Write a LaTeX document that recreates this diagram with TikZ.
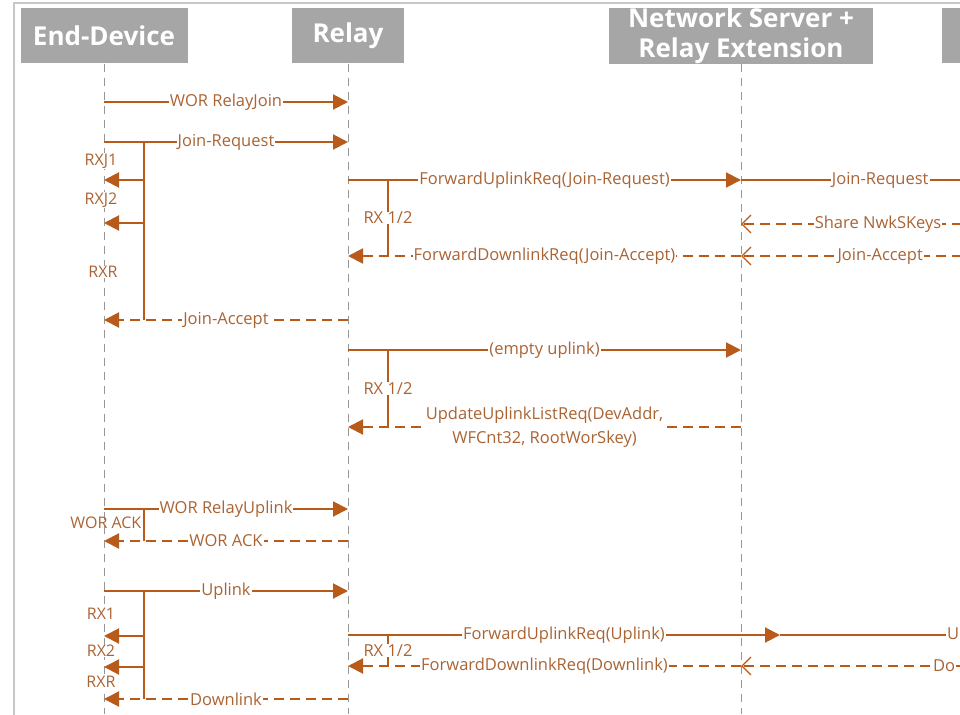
\documentclass[tikz,border=0pt]{standalone}
\usepackage{fontspec}
\setmainfont{Open Sans}
\usetikzlibrary{arrows.meta}

\definecolor{msgline}{RGB}{184,90,26}
\definecolor{msgtext}{RGB}{170,100,52}
\definecolor{hdrgrey}{RGB}{166,166,166}
\definecolor{lifegrey}{RGB}{150,150,150}
\definecolor{framegrey}{RGB}{200,200,200}

\begin{document}
\begin{tikzpicture}[x=1pt,y=-1pt,
  hdr/.style={fill=hdrgrey,text=white,font=\fontsize{26}{30}\selectfont\bfseries,minimum height=55pt,inner sep=0pt},
  life/.style={draw=lifegrey,line width=1pt,dash pattern=on 8pt off 6pt},
  msg/.style={draw=msgline,line width=2pt},
  rsp/.style={msg,dash pattern=on 10pt off 6pt},
  lbl/.style={fill=white,text=msgtext,font=\fontsize{16.5}{19}\selectfont,inner xsep=1pt,inner ysep=0.5pt},
  rxlbl/.style={fill=white,text=msgtext,font=\fontsize{16}{19}\selectfont,inner sep=0.5pt},
  filledhead/.style={-{Triangle[length=15pt,width=15pt]}},
  openhead/.style={-{Straight Barb[length=9pt,width=18pt,line width=1.3pt]}}]
\useasboundingbox (0,0) rectangle (960,714);
\clip (0,0) rectangle (960,714);

% frame of the screenshot
\draw[framegrey,line width=1.2pt] (14,730) -- (14,3) -- (990,3);

% participants
\node[hdr,minimum width=167pt] (ed) at (104,36) {End-Device};
\node[hdr,minimum width=112pt] (rl) at (348,36) {Relay};
\node[hdr,minimum width=264pt,align=center] (ns) at (741,36) {Network Server +\\Relay Extension};
\node[hdr,minimum width=60pt] (js) at (972,36) {};

\coordinate (ed-end) at (104,714);
\coordinate (rl-end) at (348,714);
\coordinate (ns-end) at (741,714);
\draw[life] (ed) -- (ed-end);
\draw[life] (rl) -- (rl-end);
\draw[life] (ns) -- (ns-end);

% message rows
\foreach \n/\y in {wrj/102,jrq/142,rxj1/180,rxj2/223,jac/320,fur/180,shk/224,fdr/256,
  eup/350,uul/427,wru/509,wak/541,upl/591,rx1/636,rx2/667,dnl/699,fuu/635,fdd/666}{
  \coordinate (ed-\n) at (104,\y);
  \coordinate (br-\n) at (144,\y);
  \coordinate (rl-\n) at (348,\y);
  \coordinate (bx-\n) at (388,\y);
  \coordinate (ns-\n) at (741,\y);
  \coordinate (rt-\n) at (962,\y);
}

% join
\draw[msg,filledhead] (ed-wrj) -- node[lbl] (t-wrj) {WOR RelayJoin} (rl-wrj);
\draw[msg,filledhead] (ed-jrq) -- node[lbl] (t-jrq) {Join-Request} (rl-jrq);
\draw[msg] (br-jrq) -- (br-jac);
\draw[msg,filledhead] (br-rxj1) -- (ed-rxj1);
\draw[msg,filledhead] (br-rxj2) -- (ed-rxj2);
\draw[rsp,filledhead] (rl-jac) -- node[lbl] (t-jac) {Join-Accept} (ed-jac);
\node[rxlbl] (l-rxj1) at (101,161) {RXJ1};
\node[rxlbl] (l-rxj2) at (101,200) {RXJ2};
\node[rxlbl] (l-rxr1) at (103,272) {RXR};

\draw[msg,filledhead] (rl-fur) -- node[lbl] (t-fur) {ForwardUplinkReq(Join-Request)} (ns-fur);
\draw[msg] (ns-fur) -- node[lbl,pos=0.63] (t-jrq2) {Join-Request} (rt-fur);
\draw[msg] (bx-fur) -- node[lbl] (t-rx1) {RX 1/2} (bx-fdr);
\draw[rsp,openhead] (rt-shk) -- node[lbl,pos=0.38] (t-shk) {Share NwkSKeys} (ns-shk);
\draw[rsp,openhead] (rt-fdr) -- node[lbl,pos=0.37] (t-jac2) {Join-Accept} (ns-fdr);
\draw[rsp,filledhead] (ns-fdr) -- node[lbl] (t-fdr) {ForwardDownlinkReq(Join-Accept)} (rl-fdr);

% uplink list
\draw[msg,filledhead] (rl-eup) -- node[lbl] (t-eup) {(empty uplink)} (ns-eup);
\draw[msg] (bx-eup) -- node[lbl] (t-rx2) {RX 1/2} (bx-uul);
\draw[rsp,filledhead] (ns-uul) -- node[lbl,align=center] (t-uul)
  {UpdateUplinkListReq(DevAddr,\\[5pt]WFCnt32, RootWorSkey)} (rl-uul);

% wake on radio
\draw[msg,filledhead] (ed-wru) -- node[lbl] (t-wru) {WOR RelayUplink} (rl-wru);
\draw[msg] (br-wru) -- (br-wak);
\node[rxlbl,anchor=east,fill=none] (l-wak) at (142,523) {WOR ACK};
\draw[rsp,filledhead] (rl-wak) -- node[lbl] (t-wak) {WOR ACK} (ed-wak);

% uplink
\draw[msg,filledhead] (ed-upl) -- node[lbl] (t-upl) {Uplink} (rl-upl);
\draw[msg] (br-upl) -- (br-dnl);
\draw[msg,filledhead] (br-rx1) -- (ed-rx1);
\draw[msg,filledhead] (br-rx2) -- (ed-rx2);
\draw[rsp,filledhead] (rl-dnl) -- node[lbl] (t-dnl) {Downlink} (ed-dnl);
\node[rxlbl] (l-rx1) at (101,614) {RX1};
\node[rxlbl] (l-rx2) at (101,651) {RX2};
\node[rxlbl] (l-rxr2) at (101,682) {RXR};

\coordinate (fuu-tip) at (780,635);
\draw[msg,filledhead] (rl-fuu) -- node[lbl] (t-fuu) {ForwardUplinkReq(Uplink)} (fuu-tip);
\draw[msg] (fuu-tip) -- (rt-fuu);
\draw[msg] (bx-fuu) -- node[lbl] (t-rx3) {RX 1/2} (bx-fdd);
\draw[rsp,openhead] (rt-fdd) -- (ns-fdd);
\draw[rsp,filledhead] (ns-fdd) -- node[lbl] (t-fdd) {ForwardDownlinkReq(Downlink)} (rl-fdd);
\node[lbl,anchor=west] (l-u) at (946,634) {U};
\node[lbl,anchor=west] (l-do) at (932,666) {Do};
\end{tikzpicture}
\end{document}
